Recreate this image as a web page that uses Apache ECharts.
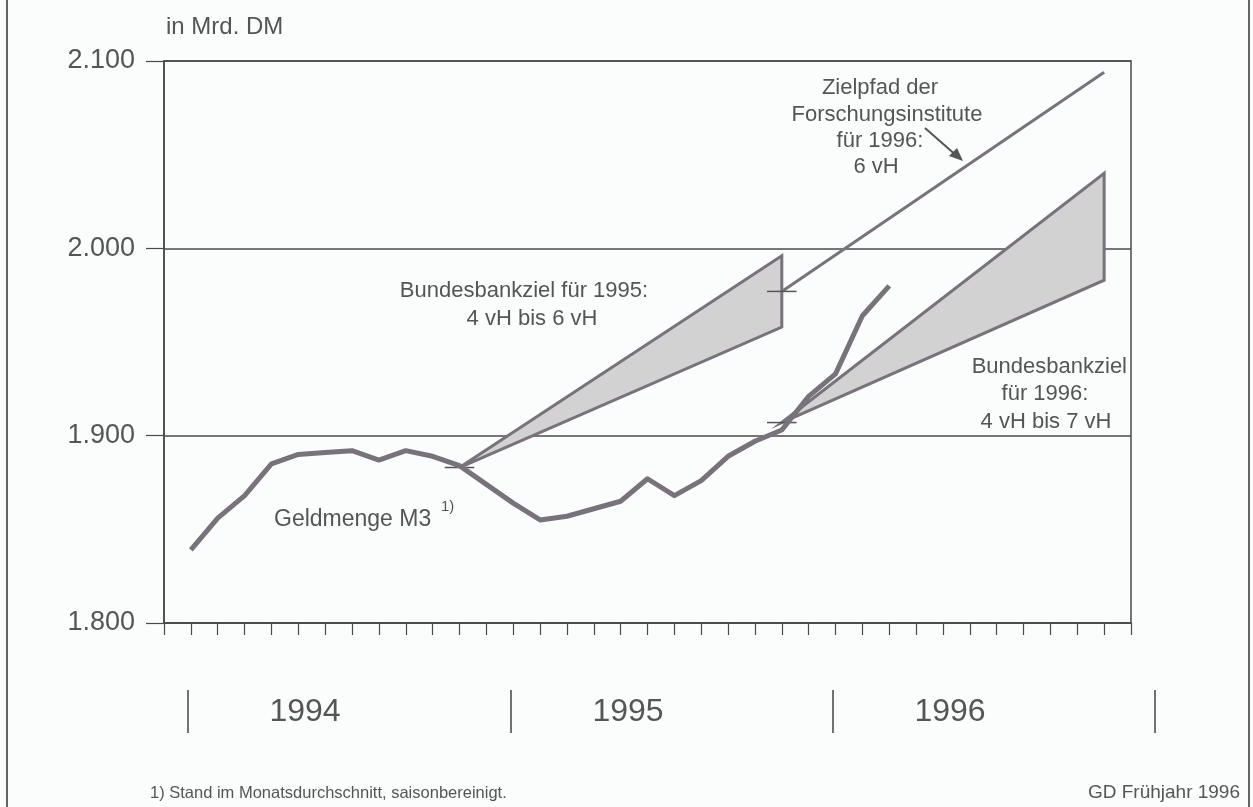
<!DOCTYPE html>
<html lang="de">
<head>
<meta charset="UTF-8">
<title>Geldmenge M3 und Zielkorridore</title>
<script src="https://cdn.jsdelivr.net/npm/echarts@6/dist/echarts.min.js"></script>
<style>
    html, body { margin: 0; padding: 0; background: #fbfcfc; }
    #chart { width: 1253px; height: 807px; }
</style>
</head>
<body>
<div id="chart"></div>
<script>
    // x = Monate seit Anfang 1994 (0 ... 36)
    var m3Months = [1, 2, 3, 4, 5, 6, 7, 8, 9, 10, 11, 12, 13, 14, 15, 16, 17, 18, 19, 20, 21, 22, 23, 24, 25, 26, 27];
    var m3Values = [1839, 1856, 1868, 1885, 1890, 1891, 1892, 1887, 1892, 1889, 1884, 1874, 1864, 1855, 1857, 1861, 1865, 1877, 1868, 1876, 1889, 1897, 1903, 1921, 1933, 1964, 1980];

    // Zielkorridore: Basis, obere und untere Grenze am Ende
    var band95 = [[11, 1883], [23, 1996], [23, 1958]];
    var band96 = [[23, 1907], [35, 2040], [35, 1983]];
    // Zielpfad der Forschungsinstitute (6 vH)
    var zielpfad = [[23, 1977], [35, 2094]];
    // kurze waagerechte Basismarken
    var baseMarks = [[11, 1883], [23, 1977], [23, 1907]];

    var years = ['1994', '1995', '1996'];

    var lineGray = '#78737a';
    var axisGray = '#4a4a4a';
    var textGray = '#555555';
    var font = 'Liberation Sans, Arial, sans-serif';

    var myChart = echarts.init(document.getElementById('chart'));

    function bandSeries(band) {
        return {
            type: 'custom',
            z: 2,
            data: [band[0]],
            renderItem: function (params, api) {
                var pts = band.map(function (p) { return api.coord(p); });
                return {
                    type: 'polygon',
                    shape: { points: pts },
                    style: { fill: '#d2d2d2', stroke: lineGray, lineWidth: 3, lineJoin: 'miter' }
                };
            }
        };
    }

    // Jahresleiste unter der Achse
    var yearGraphics = [];
    var sepX = [188, 511, 833, 1155];
    var yearX = [305, 628, 950];
    sepX.forEach(function (x) {
        yearGraphics.push({
            type: 'line', shape: { x1: x, y1: 690, x2: x, y2: 733 },
            style: { stroke: '#444', lineWidth: 1.5 }
        });
    });
    years.forEach(function (y, i) {
        yearGraphics.push({
            type: 'text', x: yearX[i], y: 712,
            style: { text: y, font: '32px ' + font, fill: textGray, align: 'center', verticalAlign: 'middle' }
        });
    });

    function label(text, x, y, align, size) {
        return {
            type: 'text', x: x, y: y,
            style: { text: text, font: (size || 22) + 'px ' + font, fill: textGray, align: align || 'center', verticalAlign: 'middle' }
        };
    }

    var option = {
        backgroundColor: '#fbfcfc',
        animation: false,
        grid: {
            left: 164, right: 122, top: 61, bottom: 184,
            show: true, borderColor: axisGray, borderWidth: 1.5
        },
        xAxis: {
            type: 'value',
            min: 0, max: 36, interval: 1,
            axisLine: { show: true, lineStyle: { color: axisGray, width: 1.5 } },
            axisTick: { show: true, length: 12, lineStyle: { color: axisGray, width: 1.2 } },
            axisLabel: { show: false },
            splitLine: { show: false }
        },
        yAxis: {
            type: 'value',
            min: 1800, max: 2100, interval: 100,
            axisLine: { show: true, lineStyle: { color: axisGray, width: 1.5 } },
            axisTick: { show: true, length: 18, lineStyle: { color: axisGray, width: 1.2 } },
            axisLabel: {
                margin: 29, fontSize: 27, fontFamily: font, color: textGray,
                formatter: function (v) { return (v / 1000).toFixed(3); }
            },
            splitLine: { show: true, lineStyle: { color: axisGray, width: 1.5 } }
        },
        series: [
            bandSeries(band95),
            bandSeries(band96),
            {
                type: 'line', z: 3,
                data: zielpfad,
                showSymbol: false,
                lineStyle: { color: lineGray, width: 3 }
            },
            {
                type: 'custom', z: 4,
                data: baseMarks,
                renderItem: function (params, api) {
                    var a = api.coord([api.value(0) - 0.55, api.value(1)]);
                    var b = api.coord([api.value(0) + 0.55, api.value(1)]);
                    return {
                        type: 'line',
                        shape: { x1: a[0], y1: a[1], x2: b[0], y2: b[1] },
                        style: { stroke: '#555', lineWidth: 1.5 }
                    };
                }
            },
            {
                type: 'line', z: 5,
                data: m3Months.map(function (m, i) { return [m, m3Values[i]]; }),
                showSymbol: false,
                lineStyle: { color: lineGray, width: 5, join: 'round' }
            }
        ],
        graphic: [
            // Seitenrand
            { type: 'line', shape: { x1: 7, y1: 0, x2: 7, y2: 807 }, style: { stroke: '#333', lineWidth: 1.5 } },
            { type: 'line', shape: { x1: 1249, y1: 0, x2: 1249, y2: 807 }, style: { stroke: '#333', lineWidth: 1.5 } },
            label('in Mrd. DM', 166, 27, 'left', 24),
            label('Geldmenge M3', 274, 520, 'left', 23),
            label('1)', 441, 507, 'left', 15),
            label('Bundesbankziel für 1995:', 524, 291),
            label('4 vH bis 6 vH', 532, 319),
            label('Zielpfad der', 880, 88),
            label('Forschungsinstitute', 887, 115),
            label('für 1996:', 880, 141),
            label('6 vH', 876, 167),
            { type: 'line', shape: { x1: 925, y1: 128, x2: 958, y2: 157 }, style: { stroke: '#555', lineWidth: 2 } },
            { type: 'polygon', shape: { points: [[963, 161], [949, 156], [957, 148]] }, style: { fill: '#555' } },
            label('Bundesbankziel', 1127, 367, 'right'),
            label('für 1996:', 1045, 394),
            label('4 vH bis 7 vH', 1046, 422),
            label('1) Stand im Monatsdurchschnitt, saisonbereinigt.', 150, 793, 'left', 16.5),
            label('GD Frühjahr 1996', 1240, 793, 'right', 19)
        ].concat(yearGraphics)
    };

    myChart.setOption(option);
</script>
</body>
</html>
